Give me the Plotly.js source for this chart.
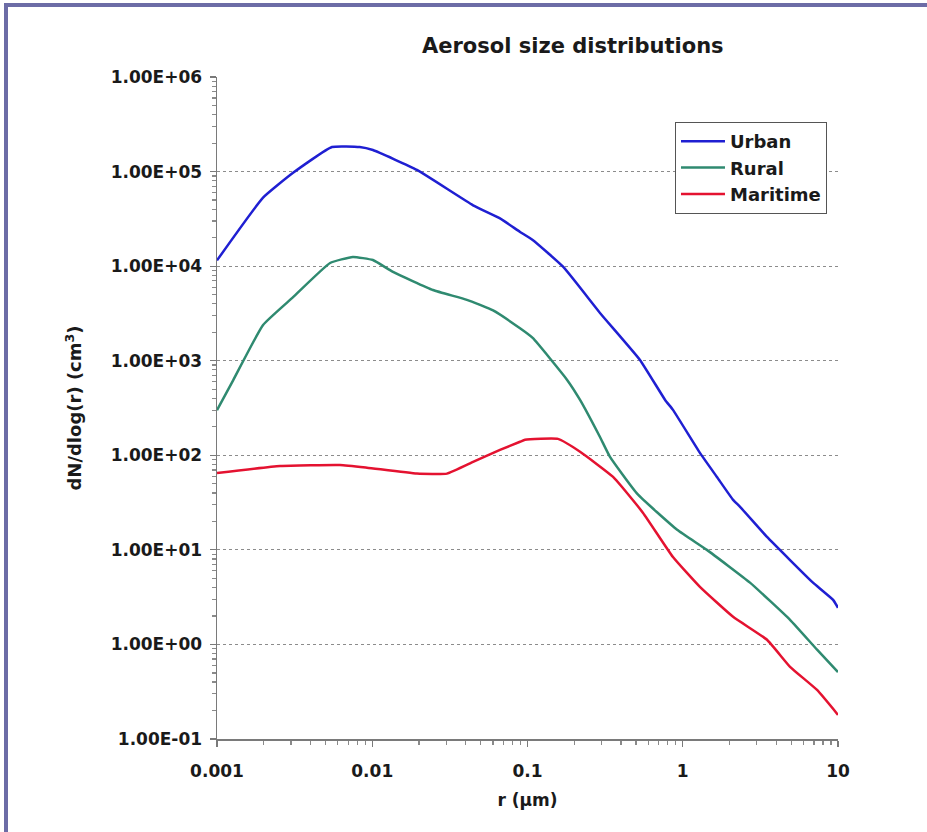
<!DOCTYPE html>
<html>
<head>
<meta charset="utf-8">
<script src="https://cdn.plot.ly/plotly-3.0.1.min.js"></script>
<style>
  html, body { margin: 0; padding: 0; background: #ffffff; }
  #frame { position: relative; width: 927px; height: 832px; overflow: hidden; }
  #chart { position: absolute; left: 0; top: 0; width: 927px; height: 832px; }
  #edge {
    position: absolute; left: 4px; top: 3px; right: -20px; bottom: -20px;
    border-top: 4px solid #6c6ca6; border-left: 4px solid #6c6ca6;
    pointer-events: none;
  }
</style>
</head>
<body>
<div id="frame">
  <div id="chart"></div>
  <div id="edge"></div>
</div>
<script>
// Particle radius (µm) and number distribution dN/dlog(r) (cm^-3) for each aerosol type
const urbanR = [0.001, 0.00198, 0.00309, 0.0055, 0.0083, 0.0101, 0.0194, 0.0446, 0.0665, 0.0895,
                0.108, 0.17, 0.293, 0.53, 0.77, 0.865, 1.3, 1.66, 2.11, 2.34, 3.49, 4.91, 6.9, 9.3, 10];
const urbanN = [1.15e4, 5.3e4, 9.7e4, 1.82e5, 1.82e5, 1.69e5, 1.04e5, 4.4e4, 3.2e4, 2.3e4,
                1.89e4, 9.8e3, 3.2e3, 1.02e3, 385, 302, 104, 59, 33.8, 28.5, 13.7, 7.8, 4.5, 2.96, 2.44];

const ruralR = [0.001, 0.00127, 0.00198, 0.00309, 0.00535, 0.0075, 0.0101, 0.0136, 0.0246, 0.0407,
                0.06, 0.0895, 0.108, 0.18, 0.218, 0.293, 0.34, 0.51, 0.92, 1.43, 2.71, 4.91, 7.33, 10];
const ruralN = [300, 620, 2390, 4700, 1.08e4, 1.25e4, 1.16e4, 8.7e3, 5.6e3, 4.4e3,
                3.4e3, 2.2e3, 1.74e3, 627, 385, 156, 96, 39, 16.3, 10, 4.5, 1.82, 0.88, 0.51];

const maritimeR = [0.001, 0.00255, 0.0062, 0.00925, 0.0194, 0.0303, 0.0446, 0.0665, 0.0895, 0.0964,
                   0.157, 0.218, 0.356, 0.555, 0.865, 1.29, 2.11, 3.49, 4.91, 7.33, 10];
const maritimeN = [65, 77, 79, 74, 64, 64, 85, 114, 139, 146,
                   149, 109, 59, 24.6, 8.4, 4.06, 1.96, 1.12, 0.58, 0.33, 0.18];

const seriesNames = ['Urban', 'Rural', 'Maritime'];

// Axis ticks and their labels
const xTickVals = [0.001, 0.01, 0.1, 1, 10];
const xTickText = ['0.001', '0.01', '0.1', '1', '10'];
const yTickVals = [1e-1, 1e0, 1e1, 1e2, 1e3, 1e4, 1e5, 1e6];
const yTickText = ['1.00E-01', '1.00E+00', '1.00E+01', '1.00E+02', '1.00E+03', '1.00E+04', '1.00E+05', '1.00E+06'];

// Minor tick positions 2..9 within each decade
function minorTicks(lo, hi) {
  const out = [];
  for (let e = lo; e < hi; e++) {
    for (let m = 2; m <= 9; m++) out.push(m * Math.pow(10, e));
  }
  return out;
}

const FONT = 'DejaVu Sans, Arial, sans-serif';
const INK = '#1a1a1a';

const lineStyle = (color) => ({ color: color, width: 2.5, shape: 'spline', smoothing: 0.4 });

const traces = [
  { x: urbanR, y: urbanN, name: seriesNames[0], legendgroup: 'u', mode: 'lines',
    line: lineStyle('#1f1fd2') },
  { x: ruralR, y: ruralN, name: seriesNames[1], legendgroup: 'r', mode: 'lines',
    line: lineStyle('#2f8a70') },
  { x: maritimeR, y: maritimeN, name: seriesNames[2], legendgroup: 'm', mode: 'lines',
    line: lineStyle('#e41230') }
];

const layout = {
  width: 927, height: 832,
  margin: { l: 217, r: 89, t: 77, b: 93 },
  paper_bgcolor: '#ffffff', plot_bgcolor: '#ffffff',
  font: { family: FONT, color: INK, size: 17, weight: 'bold' },
  title: {
    text: 'Aerosol size distributions',
    font: { family: FONT, size: 21, color: INK, weight: 'bold' },
    xref: 'paper', x: 0.573, xanchor: 'center',
    yref: 'container', y: 0.945, yanchor: 'middle'
  },
  xaxis: {
    type: 'log', range: [-3, 1],
    tickmode: 'array', tickvals: xTickVals, ticktext: xTickText,
    ticks: 'outside', ticklen: 6, tickwidth: 1.2, tickcolor: '#7a7a7a',
    showline: true, linecolor: '#7a7a7a', linewidth: 1.5,
    showgrid: false, zeroline: false,
    ticklabelstandoff: 10,
    tickfont: { family: FONT, size: 17, color: INK, weight: 'bold' },
    minor: { tickmode: 'array', tickvals: minorTicks(-3, 1), ticks: 'outside',
             ticklen: 4, tickcolor: '#8a8a8a', showgrid: false },
    title: { text: 'r (µm)', standoff: 14,
             font: { family: FONT, size: 17, color: INK, weight: 'bold' } }
  },
  yaxis: {
    type: 'log', range: [-1, 6],
    tickmode: 'array', tickvals: yTickVals, ticktext: yTickText,
    ticks: 'outside', ticklen: 6, tickwidth: 1.2, tickcolor: '#7a7a7a',
    showline: true, linecolor: '#7a7a7a', linewidth: 1.5,
    showgrid: true, gridcolor: '#8c8c8c', gridwidth: 1, griddash: 'dot',
    zeroline: false,
    ticklabelstandoff: 4,
    tickfont: { family: FONT, size: 17, color: INK, weight: 'bold' },
    minor: { tickmode: 'array', tickvals: minorTicks(-1, 6), ticks: 'outside',
             ticklen: 4, tickcolor: '#8a8a8a', showgrid: false },
    title: { text: 'dN/dlog(r) (cm<sup>3</sup>)', standoff: 24,
             font: { family: FONT, size: 18, color: INK, weight: 'bold' } }
  },
  showlegend: true,
  legend: {
    x: 0.7375, y: 0.932, xanchor: 'left', yanchor: 'top',
    bgcolor: '#ffffff', bordercolor: '#555555', borderwidth: 1,
    tracegroupgap: 0, itemwidth: 44,
    font: { family: FONT, size: 18, color: INK, weight: 'bold' }
  }
};

Plotly.newPlot('chart', traces, layout, { displayModeBar: false, staticPlot: true });
</script>
</body>
</html>
